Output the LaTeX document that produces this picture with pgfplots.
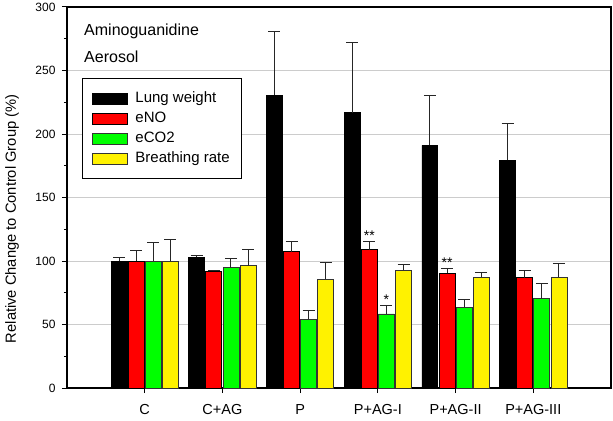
\documentclass[border=0pt]{standalone}
\usepackage{fontspec}
\setmainfont{Liberation Sans}
\usepackage{pgfplots}
\pgfplotsset{compat=1.18}
\usepackage{pgfplotstable}

\pgfplotstableread{
x y e
0 100.0 2.9
1 102.9 1.3
2 230.7 50.1
3 216.8 55.6
4 191.0 39.2
5 179.2 28.7
}\lung
\pgfplotstableread{
x y e
0 100.0 8.0
1 92.1 0.5
2 107.3 7.7
3 108.9 6.3
4 90.3 3.6
5 86.9 6.0
}\eno
\pgfplotstableread{
x y e
0 100.0 14.4
1 94.7 7.4
2 54.3 6.6
3 58.3 6.8
4 63.5 6.1
5 70.3 11.8
}\eco
\pgfplotstableread{
x y e
0 100.0 17.3
1 96.3 12.6
2 85.8 12.9
3 92.7 4.7
4 87.1 4.0
5 87.1 11.1
}\breath

\begin{document}
\begin{tikzpicture}
\begin{axis}[
  scale only axis, width=544pt, height=381pt,
  xmin=-1, xmax=6, ymin=0, ymax=300,
  ybar=1.2pt, bar width=0.205,
  xtick={0,...,5},
  xticklabels={C,C+AG,P,P+AG-I,P+AG-II,P+AG-III},
  ytick={0,50,...,300}, minor y tick num=1,
  tick pos=left, tick align=outside,
  major tick length=5pt, minor tick length=3pt,
  every tick/.style={black, line width=1pt},
  ymajorgrids, major grid style={color=black!20, line width=1pt},
  axis line style={line width=1.2pt},
  /pgf/number format/assume math mode=true,
  yticklabel style={font=\fontsize{12}{14}\selectfont, xshift=-3pt},
  xticklabel style={font=\fontsize{14.5}{17}\selectfont, yshift=-8pt},
  ylabel={Relative Change to Control Group (\%)},
  ylabel style={font=\fontsize{14.7}{17}\selectfont, at={(axis description cs:-0.101,0.444)}, anchor=center},
  legend image code/.code={\draw[#1, line width=0.8pt] (0pt,-5.5pt) rectangle (35pt,5.5pt);},
  legend cell align=left,
  legend style={at={(rel axis cs:0.0276,0.8136)}, anchor=north west,
    draw=black, line width=1.2pt, font=\fontsize{15}{18}\selectfont,
    inner xsep=9pt, inner ysep=10pt, column sep=5pt,
    nodes={text height=11pt, text depth=3pt, inner ysep=3pt, inner xsep=3pt}},
  error bars/y dir=plus, error bars/y explicit,
  error bars/error bar style={line width=1pt, black!85},
  error bars/error mark options={rotate=90, mark size=6pt, line width=1pt, black!85},
]
\addplot[fill=black, draw=black, line width=0.8pt] table[x=x, y=y, y error=e]{\lung};
\addlegendentry{Lung weight}
\addplot[fill=red, draw=black, line width=0.8pt] table[x=x, y=y, y error=e]{\eno};
\addlegendentry{eNO}
\addplot[fill=green, draw=black!80, line width=0.8pt] table[x=x, y=y, y error=e]{\eco};
\addlegendentry{eCO2}
\addplot[fill=yellow, draw=black!80, line width=0.8pt] table[x=x, y=y, y error=e]{\breath};
\addlegendentry{Breathing rate}

\node[font=\fontsize{16}{19}\selectfont, anchor=base west, inner sep=0pt] at (axis cs:-0.781,277.2) {Aminoguanidine};
\node[font=\fontsize{16}{19}\selectfont, anchor=base west, inner sep=0pt] at (axis cs:-0.781,256.4) {Aerosol};
\node[font=\fontsize{14}{16}\selectfont, anchor=base, inner sep=0pt] at (axis cs:2.89,116) {**};
\node[font=\fontsize{14}{16}\selectfont, anchor=base, inner sep=0pt] at (axis cs:3.11,65.6) {*};
\node[font=\fontsize{14}{16}\selectfont, anchor=base, inner sep=0pt] at (axis cs:3.89,95) {**};

\coordinate (ll) at (rel axis cs:0,0);
\coordinate (ur) at (rel axis cs:1,1);
\end{axis}
\pgfresetboundingbox
\path[use as bounding box] ([shift={(-67pt,-32pt)}]ll) rectangle ([shift={(2pt,7pt)}]ur);
\end{tikzpicture}
\end{document}
